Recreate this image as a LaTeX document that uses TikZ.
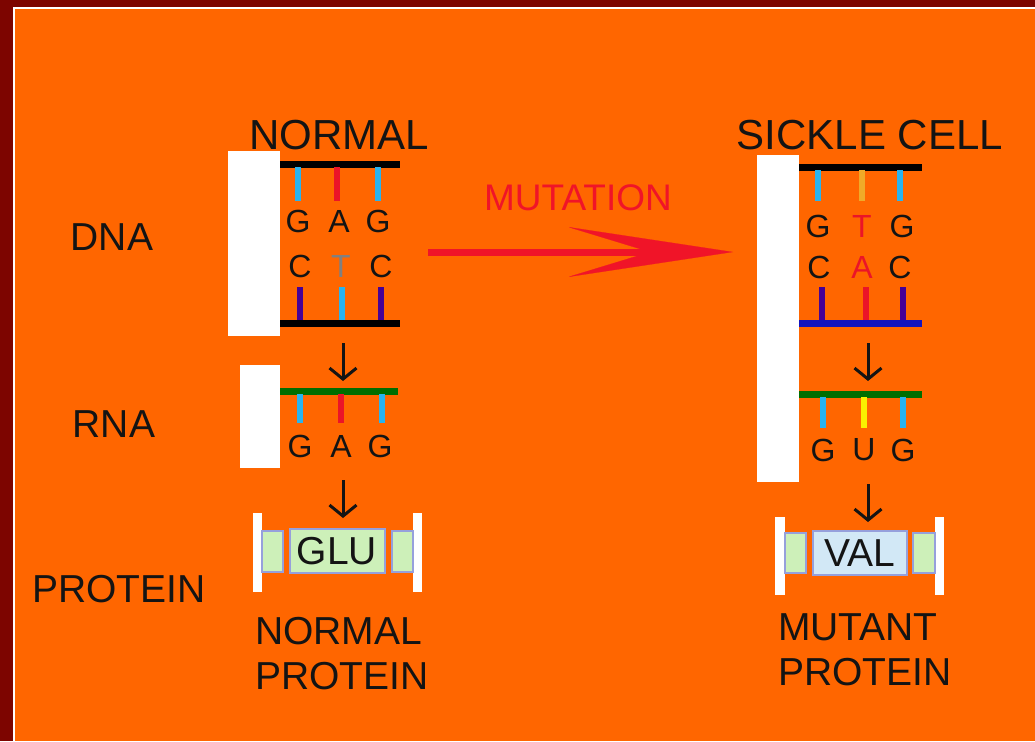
\documentclass[tikz,border=0pt]{standalone}
\usepackage{fontspec}
\setmainfont{Liberation Sans}
\usetikzlibrary{arrows.meta}

\definecolor{slideorange}{RGB}{255,102,0}
\definecolor{slidered}{RGB}{125,5,0}
\definecolor{basecyan}{RGB}{40,180,240}
\definecolor{basered}{RGB}{235,20,40}
\definecolor{basepurple}{RGB}{70,0,150}
\definecolor{baseyellow}{RGB}{250,240,0}
\definecolor{baseamber}{RGB}{240,170,40}
\definecolor{rnagreen}{RGB}{0,110,0}
\definecolor{strandblue}{RGB}{20,20,190}
\definecolor{chainfill}{RGB}{205,240,185}
\definecolor{valfill}{RGB}{210,232,246}
\definecolor{chainedge}{RGB}{150,160,220}
\definecolor{mutred}{RGB}{240,20,40}
\definecolor{ink}{RGB}{20,20,20}

\tikzset{
  tag/.style={font=\fontsize{39}{45}\selectfont, text=ink, inner sep=0pt},
  heading/.style={font=\fontsize{42}{46}\selectfont, text=ink, inner sep=0pt},
  letter/.style={font=\fontsize{32}{34}\selectfont, text=ink, inner sep=0pt},
  rung/.style={line width=6pt},
  strand/.style={line width=7pt},
  flow/.style={-{Straight Barb[length=11pt,width=27pt]}, line width=3pt, ink},
  unit/.style={draw=chainedge, line width=1.5pt, fill=chainfill}
}

\begin{document}
\begin{tikzpicture}[x=1pt,y=-1pt]
  \useasboundingbox (0,0) rectangle (1035,741);
  % slide frame
  \fill[slidered] (0,0) rectangle (1035,741);
  \fill[white] (13,7) rectangle (1035,741);
  \fill[slideorange] (15,9) rectangle (1035,741);

  % row labels
  \path (112,237) node[tag] (dna) {DNA};
  \path (114,424) node[tag] (rna) {RNA};
  \path (119,589) node[tag] (protein) {PROTEIN};

  % normal gene
  \path (339,135) node[heading] (normal) {NORMAL};
  \fill[white] (228,151) rectangle (280,336);
  \draw[strand,black] (280,164) -- (400,164);
  \draw[strand,black] (280,323) -- (400,323);
  \foreach \x/\c in {298/basecyan,337/basered,378/basecyan}
    \draw[rung,\c] (\x,167) -- (\x,201);
  \foreach \x/\c in {300/basepurple,342/basecyan,381/basepurple}
    \draw[rung,\c] (\x,287) -- (\x,320);
  \path (298,221) node[letter] (ng1) {G}
        (339,221) node[letter] (na1) {A}
        (378,221) node[letter] (ng2) {G};
  \path (300,266) node[letter] (nc1) {C}
        (341,266) node[letter,text=gray] (nt1) {T}
        (381,266) node[letter] (nc2) {C};

  \fill[white] (240,365) rectangle (280,468);
  \draw[strand,rnagreen] (280,391) -- (398,391);
  \foreach \x/\c in {300/basecyan,341/basered,382/basecyan}
    \draw[rung,\c] (\x,394) -- (\x,423);
  \path (300,446) node[letter] (rg1) {G}
        (341,446) node[letter] (ra1) {A}
        (380,446) node[letter] (rg2) {G};

  \fill[white] (253,513) rectangle (262,592);
  \fill[white] (413,513) rectangle (422,592);
  \draw[unit] (262,531) rectangle (283,572);
  \draw[unit] (290,529) rectangle (385,573);
  \draw[unit] (392,531) rectangle (413,572);
  \path (337,551) node[tag] (glu) {GLU};
  \path (255,617) node[tag,anchor=north west,align=left] (normprot) {NORMAL\\PROTEIN};

  \coordinate (ndna) at (343,343);
  \coordinate (nrna) at (343,381);
  \coordinate (nrnb) at (343,480);
  \coordinate (nprot) at (343,518);
  \draw[flow] (ndna) -- (nrna);
  \draw[flow] (nrnb) -- (nprot);

  % mutation
  \path (578,198) node[font=\fontsize{37}{40}\selectfont,text=mutred,inner sep=0pt] (mutation) {MUTATION};
  \coordinate (mutfrom) at (428,252);
  \coordinate (mutto) at (733,252);
  \draw[mutred,line width=7pt,
        -{Stealth[length=165pt,width=50pt,inset=82pt,line width=0.2pt]}] (mutfrom) -- (mutto);

  % sickle cell gene
  \path (870,135) node[heading] (sickle) {SICKLE CELL};
  \fill[white] (757,155) rectangle (799,482);
  \draw[strand,black] (799,167) -- (922,167);
  \draw[strand,strandblue] (799,323) -- (922,323);
  \foreach \x/\c in {818/basecyan,862/baseamber,900/basecyan}
    \draw[rung,\c] (\x,170) -- (\x,201);
  \foreach \x/\c in {822/basepurple,866/basered,903/basepurple}
    \draw[rung,\c] (\x,287) -- (\x,320);
  \path (818,226) node[letter] (sg1) {G}
        (862,226) node[letter,text=basered] (st1) {T}
        (902,226) node[letter] (sg2) {G};
  \path (819,267) node[letter] (sc1) {C}
        (862,267) node[letter,text=basered] (sa1) {A}
        (900,267) node[letter] (sc2) {C};

  \draw[strand,rnagreen] (799,394) -- (922,394);
  \foreach \x/\c in {823/basecyan,864/baseyellow,903/basecyan}
    \draw[rung,\c] (\x,397) -- (\x,428);
  \path (823,450) node[letter] (ug1) {G}
        (864,450) node[letter] (uu1) {U}
        (903,450) node[letter] (ug2) {G};

  \fill[white] (775,517) rectangle (785,595);
  \fill[white] (935,517) rectangle (944,595);
  \draw[unit] (785,533) rectangle (806,573);
  \draw[unit,fill=valfill] (813,531) rectangle (907,575);
  \draw[unit] (913,533) rectangle (935,573);
  \path (860,553) node[tag] (val) {VAL};
  \path (778,613) node[tag,anchor=north west,align=left] (mutprot) {MUTANT\\PROTEIN};

  \coordinate (sdna) at (868,343);
  \coordinate (srna) at (868,381);
  \coordinate (srnb) at (868,484);
  \coordinate (sprot) at (868,522);
  \draw[flow] (sdna) -- (srna);
  \draw[flow] (srnb) -- (sprot);
\end{tikzpicture}
\end{document}
